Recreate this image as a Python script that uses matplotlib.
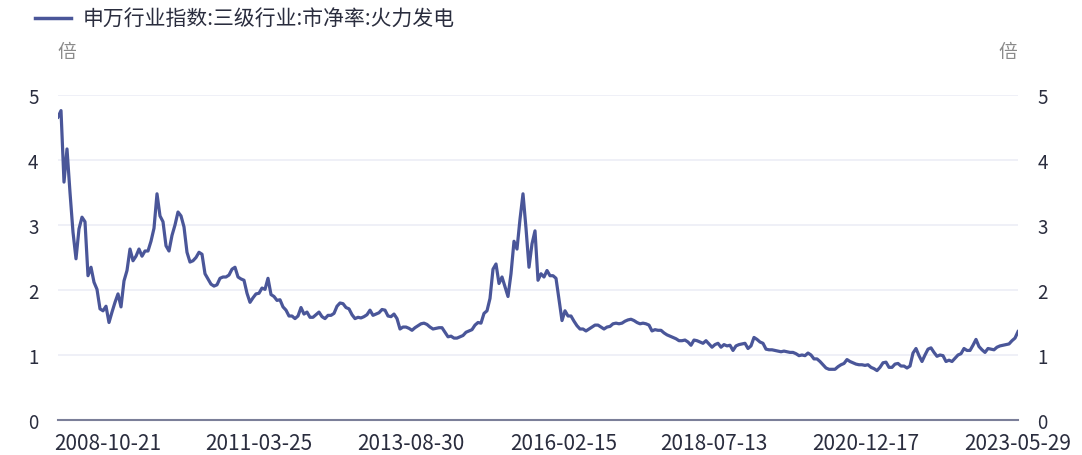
import numpy as np
import pandas as pd
import matplotlib
matplotlib.use('Agg')
from matplotlib import pyplot as plt

plt.rcParams['font.family'] = ['Noto Sans CJK SC', 'DejaVu Sans']

series_name = '申万行业指数:三级行业:市净率:火力发电'
unit = '倍'
start_date = '2008-01-02'
end_date = '2023-05-29'

pb_values = [
    4.66, 4.76, 3.66, 4.17, 3.5, 2.89, 2.48, 2.94, 3.12, 3.05,
    2.22, 2.35, 2.12, 2.01, 1.71, 1.68, 1.75, 1.5, 1.66, 1.81,
    1.94, 1.74, 2.14, 2.3, 2.63, 2.45, 2.52, 2.63, 2.52, 2.6,
    2.6, 2.75, 2.95, 3.48, 3.14, 3.05, 2.68, 2.6, 2.84, 3.0,
    3.2, 3.14, 2.97, 2.58, 2.43, 2.45, 2.5, 2.58, 2.55, 2.25,
    2.17, 2.09, 2.06, 2.08, 2.18, 2.2, 2.2, 2.23, 2.32, 2.35,
    2.2, 2.17, 2.15, 1.95, 1.81, 1.88, 1.94, 1.95, 2.03, 2.01,
    2.18, 1.93, 1.9, 1.84, 1.85, 1.74, 1.69, 1.6, 1.6, 1.56,
    1.6, 1.73, 1.63, 1.66, 1.58, 1.58, 1.62, 1.66, 1.59, 1.56,
    1.61, 1.61, 1.64, 1.75, 1.8, 1.79, 1.73, 1.71, 1.62, 1.56,
    1.58, 1.57, 1.59, 1.62, 1.69, 1.61, 1.63, 1.65, 1.7, 1.69,
    1.6, 1.59, 1.63, 1.56, 1.4, 1.43, 1.43, 1.41, 1.38, 1.42,
    1.45, 1.48, 1.49, 1.47, 1.43, 1.4, 1.41, 1.42, 1.42, 1.35,
    1.28, 1.29, 1.26, 1.26, 1.28, 1.3, 1.35, 1.37, 1.39, 1.46,
    1.5, 1.49, 1.64, 1.68, 1.87, 2.32, 2.4, 2.1, 2.2, 2.05,
    1.9, 2.25, 2.75, 2.63, 3.09, 3.48, 2.95, 2.35, 2.71, 2.91,
    2.15, 2.25, 2.2, 2.3, 2.22, 2.22, 2.18, 1.85, 1.53, 1.68,
    1.6, 1.6, 1.52, 1.45, 1.4, 1.4, 1.37, 1.4, 1.43, 1.46,
    1.46, 1.43, 1.4, 1.43, 1.44, 1.48, 1.49, 1.48, 1.49, 1.52,
    1.54, 1.55, 1.53, 1.5, 1.48, 1.49, 1.48, 1.46, 1.37, 1.39,
    1.38, 1.38, 1.34, 1.31, 1.29, 1.27, 1.25, 1.22, 1.22, 1.23,
    1.2, 1.15, 1.23, 1.22, 1.2, 1.18, 1.22, 1.17, 1.12, 1.16,
    1.18, 1.12, 1.16, 1.14, 1.15, 1.07, 1.14, 1.16, 1.17, 1.18,
    1.1, 1.14, 1.27, 1.24, 1.2, 1.18, 1.09, 1.08, 1.08, 1.07,
    1.06, 1.05, 1.06, 1.05, 1.04, 1.04, 1.02, 0.99, 1.0, 0.99,
    1.03, 1.0, 0.94, 0.94, 0.9, 0.85, 0.8, 0.78, 0.78, 0.78,
    0.82, 0.85, 0.87, 0.93, 0.9, 0.88, 0.86, 0.85, 0.85, 0.84,
    0.85, 0.81, 0.79, 0.76, 0.81, 0.88, 0.89, 0.81, 0.81, 0.86,
    0.87, 0.83, 0.83, 0.8, 0.83, 1.03, 1.1, 0.99, 0.9, 1.0,
    1.09, 1.11, 1.04, 0.98, 1.0, 0.99, 0.9, 0.92, 0.9, 0.95,
    1.0, 1.02, 1.1, 1.07, 1.07, 1.15, 1.24, 1.13, 1.08, 1.04,
    1.1, 1.09, 1.08, 1.12, 1.14, 1.15, 1.16, 1.17, 1.22, 1.26,
    1.36,
]

tick_dates = ['2008-10-21', '2011-03-25', '2013-08-30', '2016-02-15',
              '2018-07-13', '2020-12-17', '2023-05-29']
y_ticks = [0, 1, 2, 3, 4, 5]

dates = pd.date_range(start_date, end_date, periods=len(pb_values))

line_color = '#4a5699'
text_color = '#2a2d3e'
grid_color = '#eceef6'

fig = plt.figure(figsize=(10.82, 4.56), dpi=100)
ax = fig.add_axes([58 / 1082, 1 - 421 / 456, 960 / 1082, 325 / 456])

for yv in y_ticks[1:]:
    ax.axhline(yv, color=grid_color, linewidth=1.2, zorder=1)

ax.plot(dates, pb_values, color=line_color, linewidth=2.3, zorder=3,
        solid_joinstyle='round', label=series_name)

ax.set_xlim(pd.Timestamp(start_date), pd.Timestamp(end_date))
ax.set_ylim(0, 5)
ax.set_yticks(y_ticks)
ax.set_xticks(pd.to_datetime(tick_dates))
ax.set_xticklabels(tick_dates)

for side in ['top', 'left', 'right']:
    ax.spines[side].set_visible(False)
ax.spines['bottom'].set_color('#7b7f99')
ax.spines['bottom'].set_linewidth(1.5)

ax.tick_params(axis='x', length=0, pad=9, labelsize=15, labelcolor=text_color)
ax.tick_params(axis='y', length=0, pad=14, labelsize=13.5, labelcolor=text_color,
               labelleft=True, labelright=True)

fig.text(67 / 1082, 1 - 52 / 456, unit, ha='center', va='center',
         fontsize=13.5, color='#8a8a8a')
fig.text(1008 / 1082, 1 - 52 / 456, unit, ha='center', va='center',
         fontsize=13.5, color='#8a8a8a')

leg = ax.legend(loc='upper left', bbox_to_anchor=(33 / 1082, 1 - 7 / 456),
                bbox_transform=fig.transFigure, frameon=False, fontsize=15,
                handlelength=1.7, handletextpad=0.6, labelcolor=text_color,
                borderaxespad=0.0, borderpad=0.1)
leg.get_lines()[0].set_linewidth(2.5)

fig.savefig('out.png', dpi=100)
